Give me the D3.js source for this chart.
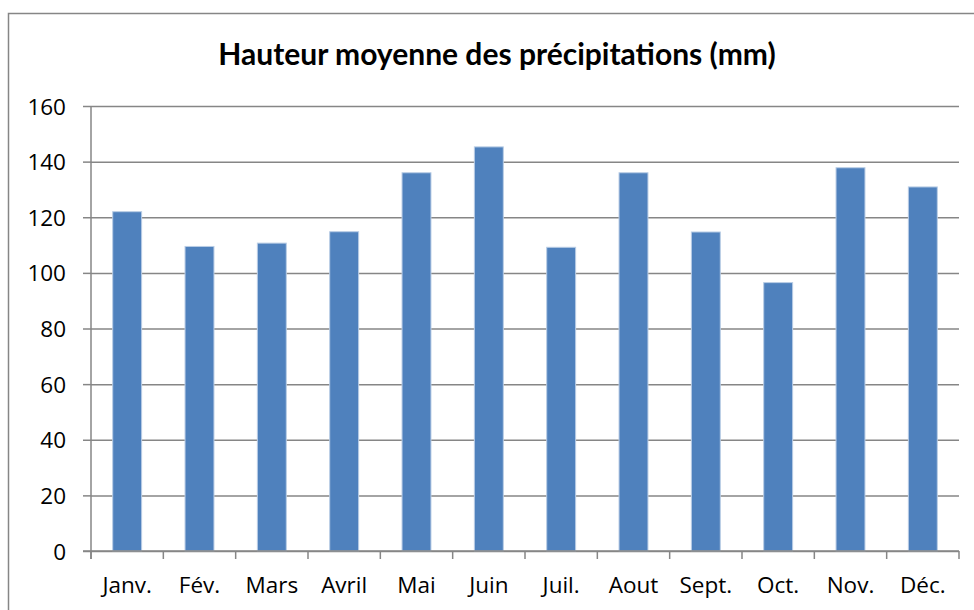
<!DOCTYPE html>
<html>
<head>
<meta charset="utf-8">
<script src="https://cdnjs.cloudflare.com/ajax/libs/d3/7.8.5/d3.min.js"></script>
<style>
  html, body { margin: 0; padding: 0; background: #fff; }
  svg { display: block; }
</style>
</head>
<body>
<svg id="chart" width="974" height="610"></svg>
<script>
// Monthly average precipitation (mm)
const months = ["Janv.", "Fév.", "Mars", "Avril", "Mai", "Juin", "Juil.", "Aout", "Sept.", "Oct.", "Nov.", "Déc."];
const precipitation = [122.0, 109.5, 110.7, 114.8, 136.0, 145.3, 109.2, 136.0, 114.7, 96.5, 137.8, 130.9];
const yTicks = [0, 20, 40, 60, 80, 100, 120, 140, 160];
const title = "Hauteur moyenne des précipitations (mm)";

const svg = d3.select("#chart");
const titleFont = "Lato, 'Open Sans', sans-serif";
const labelFont = "'Open Sans', Lato, sans-serif";

// chart frame
svg.append("rect")
  .attr("x", 8.5).attr("y", 13.5)
  .attr("width", 990).attr("height", 620)
  .attr("fill", "#fff")
  .attr("stroke", "#868686")
  .attr("stroke-width", 1.5);

const plot = { left: 91, right: 959, top: 106, bottom: 551 };

const x = d3.scaleBand()
  .domain(months)
  .range([plot.left, plot.right])
  .paddingInner(0.6)
  .paddingOuter(0.3);

const y = d3.scaleLinear()
  .domain([0, 160])
  .range([plot.bottom, plot.top]);

// horizontal gridlines with short outer ticks
const yAxis = svg.append("g")
  .attr("transform", `translate(${plot.left},0)`)
  .call(d3.axisLeft(y).tickValues(yTicks).tickSize(8).tickPadding(17));
yAxis.select(".domain").remove();
yAxis.selectAll(".tick line").attr("stroke", "#868686").attr("stroke-width", 1.5);
yAxis.selectAll(".tick").append("line")
  .attr("x1", 0).attr("x2", plot.right - plot.left)
  .attr("stroke", "#868686").attr("stroke-width", 1.5);
yAxis.selectAll(".tick text")
  .attr("font-family", labelFont).attr("font-size", 22.5).attr("fill", "#000")
  .attr("dy", "0.36em");

// vertical axis line
svg.append("line")
  .attr("x1", plot.left).attr("x2", plot.left)
  .attr("y1", plot.top).attr("y2", plot.bottom + 8)
  .attr("stroke", "#868686").attr("stroke-width", 1.5);

// bars
svg.append("g").selectAll("rect")
  .data(months.map((m, i) => ({ m, v: precipitation[i] })))
  .join("rect")
  .attr("x", d => x(d.m))
  .attr("y", d => y(d.v))
  .attr("width", x.bandwidth())
  .attr("height", d => y(0) - y(d.v))
  .attr("fill", "#4F81BD")
  .attr("stroke", "#B9CDE5")
  .attr("stroke-width", 1);

// category axis: ticks on band boundaries
const step = (plot.right - plot.left) / months.length;
const bounds = d3.range(months.length + 1).map(i => plot.left + i * step);
svg.append("g").selectAll("line")
  .data(bounds)
  .join("line")
  .attr("x1", d => d).attr("x2", d => d)
  .attr("y1", plot.bottom).attr("y2", plot.bottom + 8)
  .attr("stroke", "#868686").attr("stroke-width", 1.5);
svg.append("line")
  .attr("x1", plot.left - 8).attr("x2", plot.right)
  .attr("y1", plot.bottom).attr("y2", plot.bottom)
  .attr("stroke", "#868686").attr("stroke-width", 1.5);

svg.append("g").selectAll("text")
  .data(months)
  .join("text")
  .attr("x", d => x(d) + x.bandwidth() / 2)
  .attr("y", 593)
  .attr("text-anchor", "middle")
  .attr("font-family", labelFont).attr("font-size", 22.5).attr("fill", "#000")
  .text(d => d);

// title
svg.append("text")
  .attr("x", 497).attr("y", 65)
  .attr("text-anchor", "middle")
  .attr("font-family", titleFont).attr("font-weight", "bold")
  .attr("font-size", 30).attr("fill", "#000")
  .text(title);
</script>
</body>
</html>
